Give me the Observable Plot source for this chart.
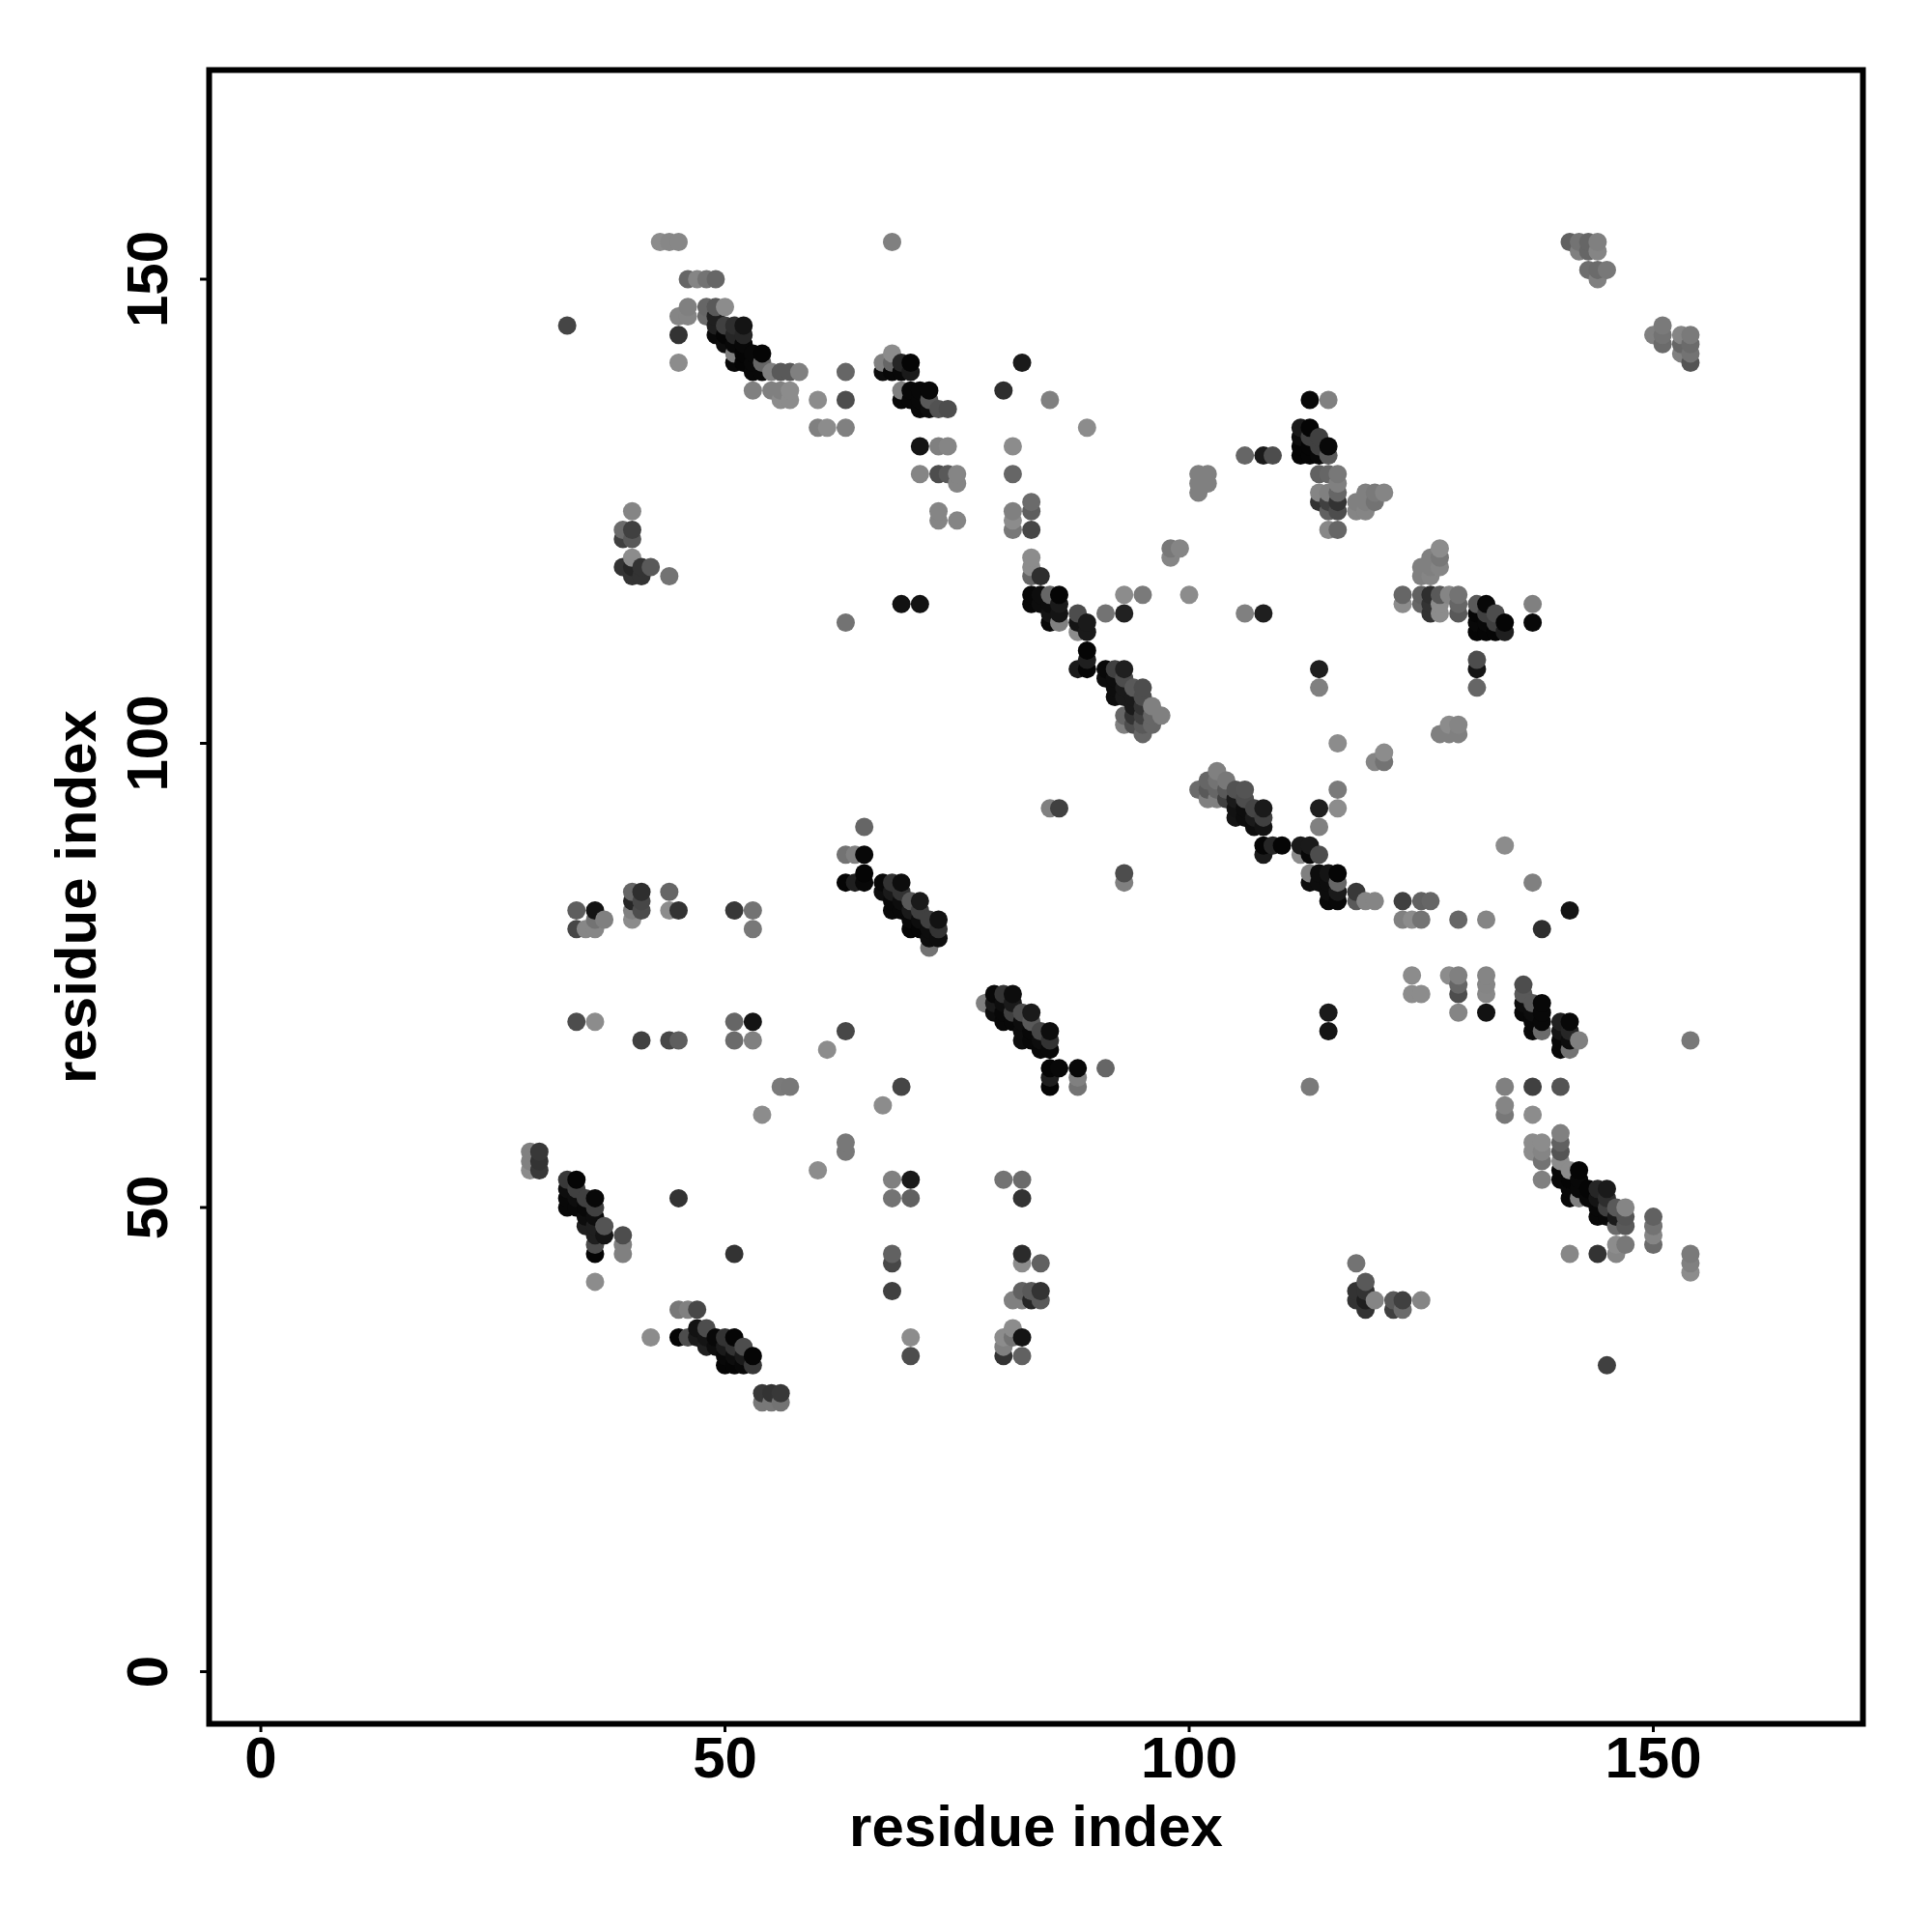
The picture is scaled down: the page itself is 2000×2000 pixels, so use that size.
<!DOCTYPE html>
<html>
<head>
<meta charset="utf-8">
<script src="https://cdn.jsdelivr.net/npm/d3@7"></script>
<script src="https://cdn.jsdelivr.net/npm/@observablehq/plot@0.6"></script>
<style>body{margin:0;background:#fff}svg{display:block}</style>
</head>
<body>
<div id="chart"></div>
<script>
const xTicks = [0, 50, 100, 150];
const yTicks = [0, 50, 100, 150];
const axisTitle = "residue index";
// contacts: [residue x, residue y, grey level 0..1]
const topLeft = [
[43,154,.55],[44,154,.53],[45,154,.53],[68,154,.5],[46,150,.4],[47,150,.52],[48,150,.45],[49,150,.4],
[46,147,.5],[48,147,.4],[49,147,.35],[50,147,.55],[45,146,.52],[46,146,.52],[48,146,.42],[49,146,.12],
[33,145,.27],[49,145,.12],[50,145,.25],[51,145,.18],[52,145,.08],[45,144,.2],[49,144,.03],[50,144,.02],[51,144,.15],[52,144,.15],
[50,143,.05],[51,143,.03],[52,143,.03],[51,142,.5],[52,142,.02],[53,142,.03],[54,142,.02],[45,141,.55],[51,141,.03],[52,141,.02],[53,141,.03],[54,141,.4],
[53,140,.03],[54,140,.03],[55,140,.5],[56,140,.35],[57,140,.35],[58,140,.5],[63,140,.4],[53,138,.5],[55,138,.5],[56,138,.5],[57,138,.55],
[56,137,.55],[57,137,.55],[60,137,.55],[63,137,.3],[60,134,.5],[61,134,.55],[63,134,.5]
];
const secondBand = [
[68,142,.55],[67,141,.5],[68,141,.4],[69,141,.15],[70,141,.02],[67,140,.05],[68,140,.03],[69,140,.03],[70,140,.1],
[69,138,.5],[70,138,.03],[71,138,.03],[72,138,.03],[69,137,.03],[70,137,.03],[71,137,.03],[72,137,.35],
[71,136,.03],[72,136,.05],[73,136,.32],[74,136,.3],[71,132,.08],[73,132,.5],[74,132,.52],[71,129,.52],[73,129,.3],[74,129,.35],[75,129,.52],[75,128,.52],
[73,125,.52],[73,124,.52],[75,124,.52]
];
const leftIsland = [
[40,125,.52],[39,123,.42],[40,123,.25],[39,122,.25],[40,122,.35],[40,120,.55],[39,119,.2],[40,119,.15],[41,119,.2],[42,119,.35],[40,118,.2],[41,118,.2],[44,118,.45],
[69,115,.07],[71,115,.07],[63,113,.45]
];
const middleBand = [
[82,141,.1],[80,138,.18],[85,137,.5],[89,134,.55],[81,132,.55],[81,129,.4],[83,126,.42],[83,125,.37],[81,125,.5],[81,124,.55],[81,123,.47],[83,123,.28],
[83,120,.55],[83,119,.55],[83,118,.4],[84,118,.18],[83,116,.03],[84,116,.05],[85,116,.4],[86,116,.02],[93,116,.55],[95,116,.48],[100,116,.55],
[83,115,.03],[84,115,.05],[85,115,.05],[86,115,.1],[85,114,.08],[86,114,.08],[88,114,.3],[91,114,.45],[93,114,.13],[106,114,.5],[108,114,.12],
[85,113,.03],[86,113,.5],[88,113,.08],[89,113,.1],[88,112,.55],[89,112,.1],[89,110,.02],[89,109,.12],[88,108,.1],[89,108,.02],[91,108,.03],[92,108,.25],[93,108,.12],[114,108,.12],[114,106,.5],
[91,107,.05],[92,107,.05],[93,107,.3],[92,106,.05],[93,106,.1],[94,106,.35],[95,106,.3],[92,105,.05],[93,105,.1],[94,105,.1],[95,105,.3],
[94,104,.1],[95,104,.2],[96,104,.5],[93,103,.4],[94,103,.2],[95,103,.25],[96,103,.4],[97,103,.5],[93,102,.5],[94,102,.3],[95,102,.35],[96,102,.4],[95,101,.4]
];
const upperRight = [
[113,137,.03],[115,137,.5],[112,134,.1],[113,134,.02],[112,133,.05],[113,133,.25],[114,133,.25],[112,132,.02],[113,132,.02],[114,132,.25],[115,132,.03],
[106,131,.4],[108,131,.1],[109,131,.3],[112,131,.02],[113,131,.02],[114,131,.03],[115,131,.35],[114,129,.38],[115,129,.4],[116,129,.47],[116,128,.5],
[114,127,.52],[115,127,.5],[116,127,.4],[119,127,.5],[120,127,.48],[121,127,.52],[114,126,.2],[115,126,.25],[116,126,.2],[118,126,.5],[119,126,.5],[120,126,.45],
[115,125,.38],[116,125,.3],[118,125,.52],[119,125,.52],[115,123,.53],[116,123,.4],[101,129,.5],[102,129,.5],[101,128,.5],[102,128,.5],[101,127,.5],
[98,121,.47],[99,121,.52],[98,120,.52],[127,121,.55],[126,120,.5],[127,120,.47],[125,119,.5],[126,119,.5],[127,119,.52],[125,118,.5],[126,118,.52],
[123,116,.4],[125,116,.38],[126,116,.18],[127,116,.35],[128,116,.52],[129,116,.45],[123,115,.55],[125,115,.4],[126,115,.2],[127,115,.55],[129,115,.4],[126,114,.2],[127,114,.55],[129,114,.35],
[131,115,.35],[132,115,.03],[137,115,.5],[131,114,.02],[132,114,.25],[133,114,.3],[131,113,.03],[132,113,.03],[133,113,.25],[134,113,.02],[137,113,.03],[131,112,.02],[132,112,.02],[133,112,.02],[134,112,.12],
[131,109,.3],[131,108,.08],[131,106,.4],[127,101,.5],[128,102,.55],[129,102,.52],[128,101,.5],[129,101,.5],[116,100,.55],[121,99,.55],[120,98,.52],[121,98,.45],
[141,154,.38],[142,154,.45],[143,154,.4],[144,154,.5],[142,153,.5],[143,153,.4],[144,153,.52],[143,151,.43],[144,151,.42],[145,151,.47],[144,150,.5],
[150,144,.5],[151,145,.48],[151,144,.45],[151,143,.42],[153,144,.52],[154,144,.48],[153,143,.4],[154,143,.42],[153,142,.5],[154,142,.45],[154,141,.33]
];
const centerBand = [
[103,97,.5],[102,96,.4],[103,96,.45],[104,96,.47],[101,95,.42],[102,95,.35],[103,95,.4],[104,95,.35],[105,95,.32],[106,95,.33],[102,94,.5],[103,94,.5],[104,94,.25],[105,94,.1],[106,94,.3],
[105,93,.07],[106,93,.05],[107,93,.27],[108,93,.1],[116,93,.55],[114,93,.12],[116,95,.48],[105,92,.08],[106,92,.05],[107,92,.1],[108,92,.25],[107,91,.05],[108,91,.07],[114,91,.5],
[85,93,.5],[86,93,.25],[93,86,.3],[93,85,.5],[108,89,.02],[109,89,.15],[110,89,.02],[112,89,.1],[113,89,.1],[134,89,.55],[108,88,.1],[112,88,.55],[113,88,.03],[114,88,.3],
[113,86,.5],[114,86,.05],[115,86,.08],[116,86,.02],[113,85,.05],[114,85,.05],[115,85,.05],[116,85,.4],[137,85,.5],[115,84,.05],[116,84,.1],[118,84,.22],[115,83,.03],[116,83,.03],[118,83,.35],[119,83,.52],[120,83,.52],
[123,83,.25],[125,83,.38],[126,83,.4],[141,82,.08],[123,81,.5],[124,81,.55],[125,81,.45],[129,81,.4],[132,81,.52],[138,80,.18]
];
const lowerLeftRows = [
[65,91,.4],[63,88,.45],[64,88,.5],[65,88,.03],[65,86,.02],[63,85,.02],[64,85,.12],[65,85,.03],[67,85,.03],[68,85,.2],[69,85,.05],[67,84,.05],[68,84,.1],[69,84,.2],
[68,83,.03],[69,83,.05],[70,83,.35],[71,83,.1],[68,82,.03],[69,82,.03],[70,82,.1],[71,82,.25],[70,81,.03],[71,81,.05],[72,81,.25],[73,81,.07],[70,80,.02],[71,80,.02],[72,80,.05],[73,80,.2],[72,79,.05],[73,79,.05],[72,78,.45],
[34,82,.37],[36,82,.08],[36,81,.45],[37,81,.5],[34,80,.28],[35,80,.53],[36,80,.53],[40,84,.4],[41,84,.18],[40,83,.15],[41,83,.28],[40,82,.5],[41,82,.3],[40,81,.55],
[44,84,.4],[44,82,.55],[45,82,.2],[51,82,.22],[53,82,.45],[53,80,.47],[34,70,.3],[36,70,.55],[51,70,.4],[53,70,.08],[41,68,.25],[44,68,.28],[45,68,.37],[51,68,.42],[53,68,.5],
[63,69,.28],[61,67,.55],[56,63,.48],[57,63,.47],[69,63,.27],[67,61,.55],[54,60,.55],[63,57,.47],[63,56,.47],[60,54,.55],[68,53,.5],[70,53,.1],[68,51,.45],[70,51,.38],
[78,72,.5],[79,73,.03],[80,73,.2],[81,73,.05],[79,72,.1],[80,72,.05],[81,72,.1],[79,71,.05],[80,71,.03],[81,71,.25],[82,71,.3],[83,71,.1],[80,70,.03],[81,70,.03],[82,70,.05],[83,70,.35],
[82,69,.05],[83,69,.03],[84,69,.28],[85,69,.05],[82,68,.05],[83,68,.03],[84,68,.05],[85,68,.2],[84,67,.03],[85,67,.03],[85,65,.02],[86,65,.03],[88,65,.03],[91,65,.4],[85,64,.12],[88,64,.5],[85,63,.02],[88,63,.45],[113,63,.48],[80,53,.45],[82,53,.42],[82,51,.2]
];
const bottomLeft = [
[29,56,.5],[29,55,.5],[29,54,.55],[30,56,.22],[30,55,.2],[30,54,.22],[33,53,.22],[34,53,.02],[33,52,.05],[34,52,.25],[33,51,.03],[34,51,.05],[35,51,.25],[36,51,.03],[33,50,.03],[34,50,.03],[35,50,.03],[36,50,.25],
[35,49,.05],[36,49,.05],[35,48,.12],[36,48,.12],[37,48,.33],[36,47,.12],[37,47,.08],[39,47,.3],[36,46,.3],[39,46,.5],[36,45,.02],[39,45,.5],[36,42,.55],[45,51,.2],[51,45,.2],
[68,45,.38],[68,44,.28],[68,41,.25],[70,36,.55],[70,34,.3],[42,36,.55],[45,39,.47],[46,39,.5],[47,39,.28],[47,37,.07],[48,37,.3],[45,36,.02],[46,36,.3],[47,36,.1],[48,36,.08],[49,36,.03],[50,36,.2],[51,36,.02],
[48,35,.12],[49,35,.05],[50,35,.1],[51,35,.2],[52,35,.3],[50,34,.03],[51,34,.05],[52,34,.1],[53,34,.02],[50,33,.02],[51,33,.02],[52,33,.03],[53,33,.22],[54,30,.22],[55,30,.2],[56,30,.22],[54,29,.47],[55,29,.47],[56,29,.45],
[82,45,.17],[82,44,.55],[84,44,.38],[82,41,.38],[83,41,.35],[84,41,.2],[81,40,.5],[82,40,.5],[83,40,.15],[84,40,.35],[81,37,.55],[80,36,.55],[81,36,.45],[82,36,.08],[80,35,.5],[80,34,.2],[82,34,.38],
[118,44,.45],[119,42,.35],[118,41,.2],[119,41,.2],[118,40,.2],[119,40,.12],[120,40,.52],[122,40,.35],[123,40,.25],[125,40,.52],[119,39,.2],[122,39,.25],[123,39,.42]
];
const lowerRight = [
[124,75,.55],[128,75,.55],[129,75,.5],[129,74,.4],[132,75,.52],[132,74,.52],[136,74,.3],[124,73,.55],[125,73,.55],[129,73,.3],[132,73,.53],[136,73,.35],[136,72,.05],[137,72,.35],[138,72,.03],
[115,71,.1],[129,71,.52],[132,71,.07],[136,71,.03],[137,71,.05],[138,71,.03],[137,70,.03],[138,70,.03],[140,70,.13],[141,70,.03],[115,69,.08],[137,69,.03],[138,69,.42],[140,69,.08],[141,69,.15],
[140,68,.03],[141,68,.05],[142,68,.5],[154,68,.47],[140,67,.03],[141,67,.45],[134,63,.5],[137,63,.25],[140,63,.33],[134,61,.52],[134,60,.47],[137,60,.55],
[140,58,.5],[137,57,.55],[138,57,.55],[140,57,.38],[137,56,.55],[138,56,.52],[140,56,.33],[138,55,.45],[140,55,.55],[140,54,.03],[141,54,.55],[142,54,.02],[138,53,.5],[140,53,.03],[141,53,.02],[142,53,.03],
[141,52,.03],[142,52,.03],[143,52,.02],[144,52,.15],[145,52,.1],[141,51,.03],[142,51,.5],[143,51,.03],[144,51,.08],[145,51,.18],[144,50,.03],[145,50,.25],[146,50,.35],[147,50,.52],[144,49,.03],[145,49,.03],[146,49,.1],[147,49,.33],[146,48,.42],[147,48,.35],
[146,46,.55],[147,46,.47],[146,45,.52],[141,45,.53],[144,45,.2],[145,33,.25],[150,49,.38],[150,48,.45],[150,47,.52],[150,46,.42],[154,45,.48],[154,44,.5],[154,43,.55]
];
const contacts = d3.sort(
  [...topLeft, ...secondBand, ...leftIsland, ...middleBand, ...upperRight, ...centerBand, ...lowerLeftRows, ...bottomLeft, ...lowerRight],
  d => d[0], d => d[1]
);
const font = {fontFamily: "Liberation Sans", fontWeight: "bold", fontSize: 60, fill: "black"};
const chart = Plot.plot({
  width: 2000, height: 2000,
  marginLeft: 216, marginRight: 72, marginTop: 72, marginBottom: 216,
  style: {background: "white"},
  x: {domain: [-5.57, 172.58], axis: null},
  y: {domain: [-5.62, 172.53], axis: null},
  color: {type: "linear", domain: [0, 1], range: ["black", "white"]},
  marks: [
    Plot.dot(contacts, {x: d => d[0], y: d => d[1], fill: d => d[2], r: 9.5}),
    Plot.frame({stroke: "black", strokeWidth: 6}),
    Plot.ruleX(xTicks, {x: d => d, y1: -5.62, y2: -6.56, stroke: "black", strokeWidth: 3}),
    Plot.ruleY(yTicks, {y: d => d, x1: -5.57, x2: -6.5, stroke: "black", strokeWidth: 3}),
    Plot.text(xTicks, {...font, x: d => d, text: d => String(d), frameAnchor: "bottom", lineAnchor: "bottom", dy: 55}),
    Plot.text(yTicks, {...font, y: d => d, text: d => String(d), frameAnchor: "left", textAnchor: "middle", lineAnchor: "bottom", rotate: -90, dx: -44}),
    Plot.text([axisTitle], {...font, text: d => d, frameAnchor: "bottom", lineAnchor: "bottom", dy: 126}),
    Plot.text([axisTitle], {...font, text: d => d, frameAnchor: "left", textAnchor: "middle", lineAnchor: "bottom", rotate: -90, dx: -118})
  ]
});
document.getElementById("chart").appendChild(chart);
</script>
</body>
</html>
